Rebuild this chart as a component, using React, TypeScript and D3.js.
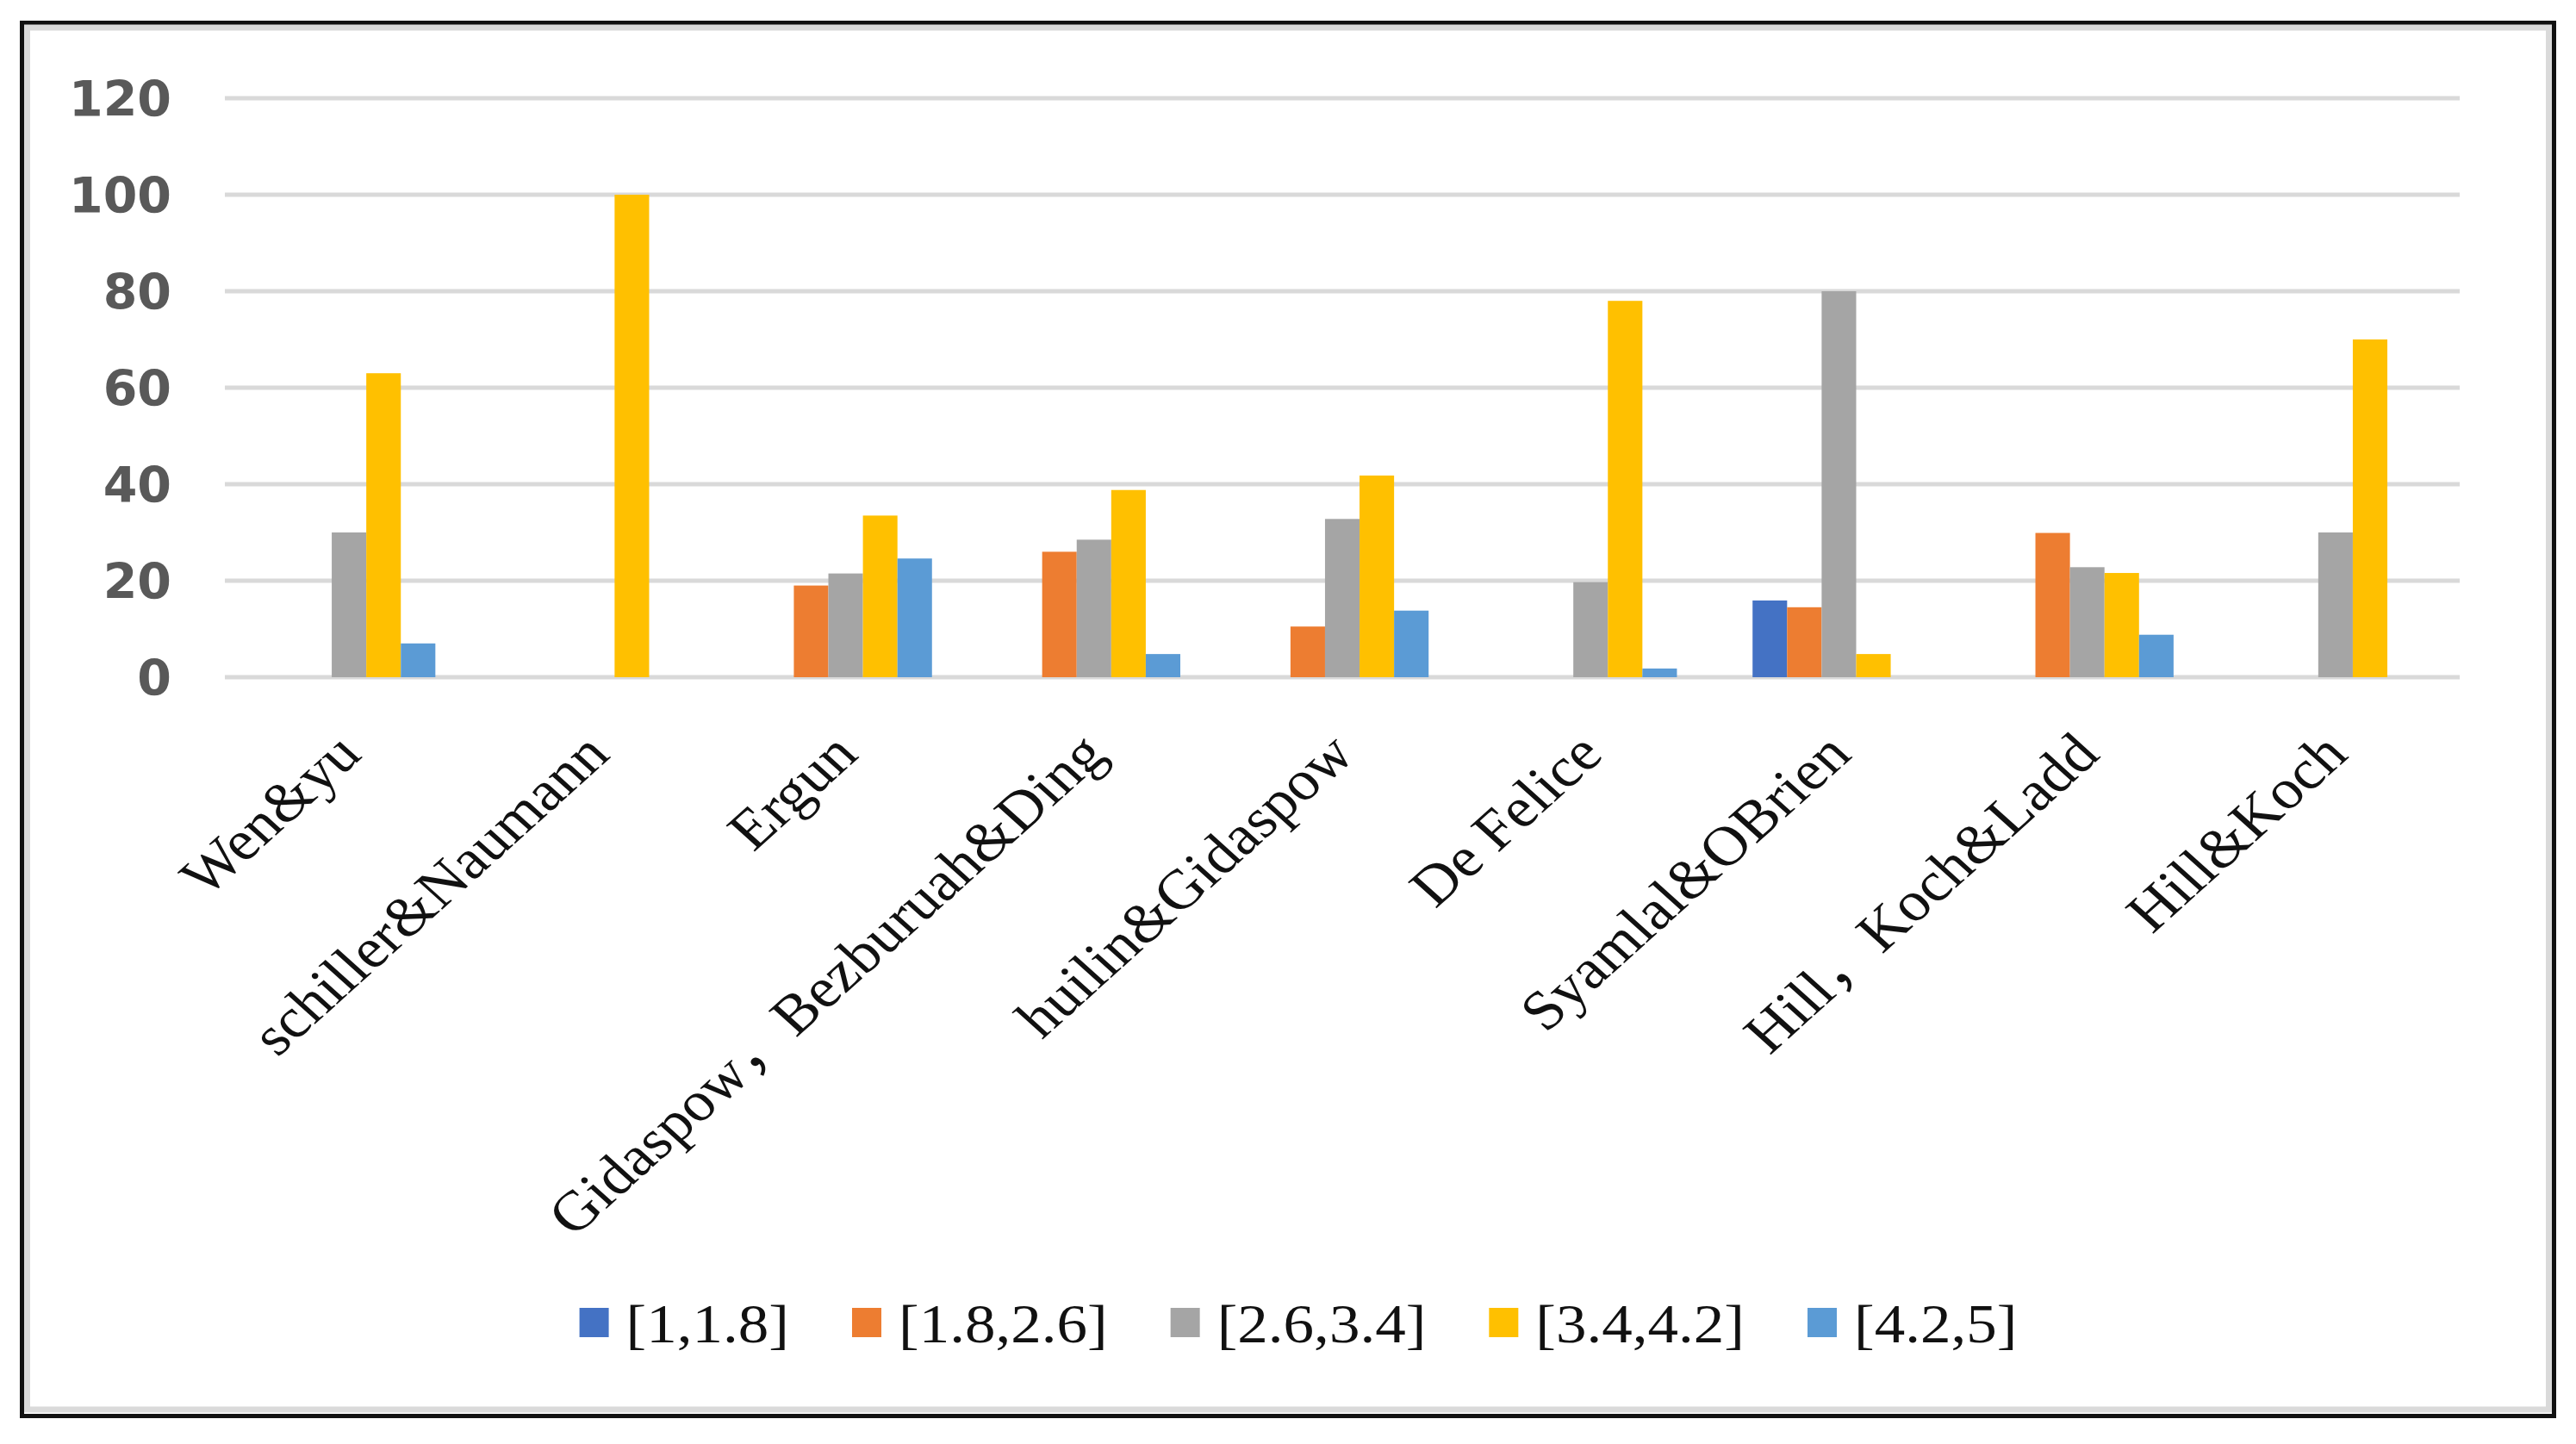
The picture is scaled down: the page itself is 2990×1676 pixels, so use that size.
import { scaleBand, scaleLinear } from "d3";

const categories = [
  "Wen&yu",
  "schiller&Naumann",
  "Ergun",
  "Gidaspow，Bezburuah&Ding",
  "huilin&Gidaspow",
  "De Felice",
  "Syamlal&OBrien",
  "Hill，Koch&Ladd",
  "Hill&Koch",
];

const seriesNames = ["[1,1.8]", "[1.8,2.6]", "[2.6,3.4]", "[3.4,4.2]", "[4.2,5]"];
const seriesColors = ["#4472C4", "#ED7D31", "#A5A5A5", "#FFC000", "#5B9BD5"];

const range1to18 = [0, 0, 0, 0, 0, 0, 15.9, 0, 0];
const range18to26 = [0, 0, 19, 26, 10.5, 0, 14.5, 29.9, 0];
const range26to34 = [30, 0, 21.5, 28.5, 32.8, 19.7, 80, 22.8, 30];
const range34to42 = [63, 100, 33.5, 38.8, 41.8, 78, 4.8, 21.6, 70];
const range42to5 = [7, 0, 24.6, 4.8, 13.8, 1.8, 0, 8.8, 0];

const seriesValues = [range1to18, range18to26, range26to34, range34to42, range42to5];
const yTicks = [0, 20, 40, 60, 80, 100, 120];

const W = 2990;
const H = 1676;
const serif = "'Liberation Serif', 'Times New Roman', 'Noto Sans CJK SC', serif";
// the source picture is a little wider than tall, so serif text is stretched
const stretch = 1.11;

// text widths for legend layout
function measure(text: string, font: string) {
  const ctx = document.createElement("canvas").getContext("2d")!;
  ctx.font = font;
  return ctx.measureText(text).width;
}

export default function App() {
  const x = scaleBand<string>().domain(categories).range([261, 2855]);
  const inner = scaleBand<string>()
    .domain(seriesNames)
    .range([0, x.bandwidth()])
    .paddingInner(0)
    .paddingOuter(1.095);
  const y = scaleLinear().domain([0, 120]).range([786, 114]);

  // legend
  const legendFont = 64;
  const sq = 34;
  const sqGap = 20;
  const itemGap = 73;
  const widths = seriesNames.map((s) => measure(s, `${legendFont}px 'Liberation Serif'`) * stretch);
  const total =
    widths.reduce((a, b) => a + b, 0) + seriesNames.length * (sq + sqGap) + (seriesNames.length - 1) * itemGap;
  let lx = 1507 - total / 2;
  const legendItems = seriesNames.map((s, i) => {
    const item = { name: s, color: seriesColors[i], x: lx };
    lx += sq + sqGap + widths[i] + itemGap;
    return item;
  });

  return (
    <div style={{ position: "fixed", left: 0, top: 0, width: W, height: H, background: "#fff" }}>
      <svg width={W} height={H} viewBox={`0 0 ${W} ${H}`}>
        <rect x={0} y={0} width={W} height={H} fill="#fff" />

        {/* frame */}
        <rect x={25.5} y={26.5} width={2939} height={1617} fill="none" stroke="#111" strokeWidth={5} />
        <rect x={31.5} y={32} width={2927} height={1604} fill="none" stroke="#dadada" strokeWidth={7} />

        {/* gridlines */}
        {yTicks.map((t) => (
          <line key={t} x1={261} x2={2855} y1={y(t)} y2={y(t)} stroke="#d9d9d9" strokeWidth={5} />
        ))}

        {/* y labels */}
        {yTicks.map((t) => (
          <text
            key={t}
            x={199}
            y={y(t)}
            dy="0.36em"
            textAnchor="end"
            fontFamily="'DejaVu Sans', Verdana, sans-serif"
            fontWeight="bold"
            fontSize={57}
            fill="#595959"
          >
            {t}
          </text>
        ))}

        {/* bars */}
        {categories.map((c, ci) => (
          <g key={c} transform={`translate(${x(c)},0)`}>
            {seriesValues.map((vals, si) =>
              vals[ci] > 0 ? (
                <rect
                  key={si}
                  x={inner(seriesNames[si])}
                  y={y(vals[ci])}
                  width={inner.bandwidth()}
                  height={y(0) - y(vals[ci])}
                  fill={seriesColors[si]}
                />
              ) : null
            )}
          </g>
        ))}

        {/* x labels */}
        {categories.map((c) => {
          const px = x(c)! + x.bandwidth() / 2 - 18;
          const py = 847;
          return (
            <text
              key={c}
              x={0}
              y={0}
              dy="0.68em"
              textAnchor="end"
              transform={`translate(${px},${py}) scale(${stretch},1) rotate(-45)`}
              fontFamily={serif}
              fontSize={65}
              fill="#111"
            >
              {c}
            </text>
          );
        })}

        {/* legend */}
        {legendItems.map((d) => (
          <g key={d.name}>
            <rect x={d.x} y={1518} width={sq} height={sq} fill={d.color} />
            <text
              x={0}
              y={0}
              transform={`translate(${d.x + sq + sqGap},1558) scale(${stretch},1)`}
              fontFamily={serif}
              fontSize={legendFont}
              fill="#111"
            >
              {d.name}
            </text>
          </g>
        ))}
      </svg>
    </div>
  );
}
